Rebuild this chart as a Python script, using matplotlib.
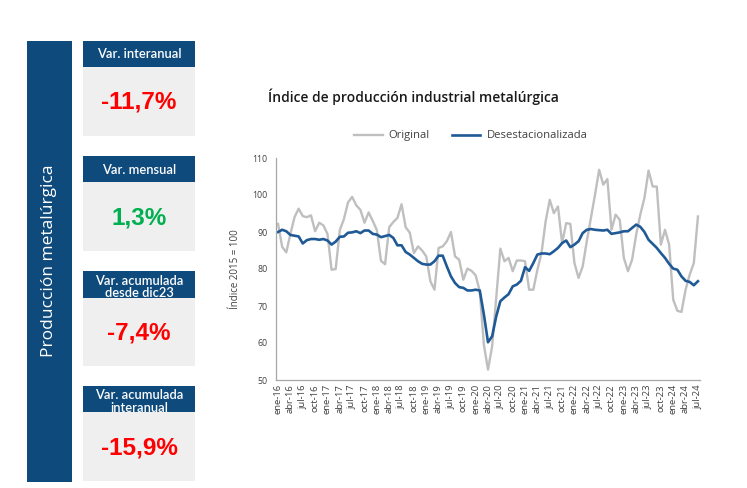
import matplotlib
matplotlib.use("Agg")
import matplotlib.pyplot as plt
from matplotlib.patches import Rectangle

# ---------------- data ----------------
original = [92.2, 86.0, 84.5, 89.5, 94.0, 96.3, 94.3, 94.0, 94.5, 90.2, 92.5, 91.8,
            89.5, 79.8, 80.0, 90.5, 93.5, 98.0, 99.5, 97.2, 96.0, 92.5, 95.3, 93.0,
            90.5, 82.2, 81.3, 91.3, 92.7, 93.8, 97.5, 91.3, 89.8, 84.3, 86.1, 85.0,
            83.4, 76.7, 74.4, 85.7, 86.1, 87.5, 90.0, 83.4, 82.5, 77.1, 80.1, 79.5,
            78.3, 74.0, 59.5, 52.8, 59.1, 72.2, 85.5, 82.1, 83.0, 79.4, 82.3, 82.3,
            82.1, 74.4, 74.4, 79.8, 84.3, 92.9, 98.7, 95.1, 96.9, 87.0, 92.4, 92.2,
            81.6, 77.6, 80.7, 87.5, 93.8, 100.1, 106.8, 102.8, 104.3, 90.6, 94.7, 93.3,
            83.0, 79.4, 82.5, 89.3, 94.7, 99.2, 106.6, 102.3, 102.3, 86.6, 90.6, 86.6,
            71.7, 68.7, 68.4, 74.4, 78.5, 81.6, 94.2]

desestacionalizada = [90.0, 90.6, 90.2, 89.2, 89.0, 88.8, 86.9, 87.8, 88.1, 88.1, 87.9, 88.1,
                      87.7, 86.6, 87.4, 88.7, 88.8, 89.8, 89.9, 90.2, 89.7, 90.4, 90.4, 89.5,
                      89.3, 88.6, 88.9, 89.2, 88.4, 86.4, 86.4, 84.6, 83.9, 83.0, 82.1, 81.4,
                      81.2, 81.2, 82.1, 83.6, 83.6, 80.7, 78.0, 76.2, 75.1, 74.9, 74.2, 74.2,
                      74.4, 74.2, 67.7, 60.2, 61.8, 67.2, 71.3, 72.3, 73.2, 75.3, 75.8, 76.8,
                      80.5, 79.5, 81.6, 83.9, 84.2, 84.2, 84.0, 84.8, 85.7, 87.0, 87.7, 85.9,
                      86.6, 87.5, 89.7, 90.6, 90.8, 90.6, 90.5, 90.4, 90.6, 89.5, 89.7, 89.9,
                      90.2, 90.2, 91.1, 92.0, 91.4, 90.0, 87.9, 86.8, 85.7, 84.3, 83.0, 81.4,
                      80.1, 79.8, 78.0, 76.8, 76.5, 75.6, 76.7]

tick_labels = ["ene-16", "abr-16", "jul-16", "oct-16", "ene-17", "abr-17", "jul-17", "oct-17",
               "ene-18", "abr-18", "jul-18", "oct-18", "ene-19", "abr-19", "jul-19", "oct-19",
               "ene-20", "abr-20", "jul-20", "oct-20", "ene-21", "abr-21", "jul-21", "oct-21",
               "ene-22", "abr-22", "jul-22", "oct-22", "ene-23", "abr-23", "jul-23", "oct-23",
               "ene-24", "abr-24", "jul-24"]
y_ticks = [50, 60, 70, 80, 90, 100, 110]

kpi_titles = ["Var. interanual", "Var. mensual", "Var. acumulada\ndesde dic23",
              "Var. acumulada\ninteranual"]
kpi_values = ["-11,7%", "1,3%", "-7,4%", "-15,9%"]
kpi_colors = ["#FF0000", "#00B050", "#FF0000", "#FF0000"]

# ---------------- figure ----------------
W, H = 747, 488
fig = plt.figure(figsize=(W / 100, H / 100), dpi=100)
fig.patch.set_facecolor("white")

NAVY = "#0E4A7C"

# overlay axes in pixel coordinates for left panel
ov = fig.add_axes([0, 0, 1, 1])
ov.set_xlim(0, W)
ov.set_ylim(H, 0)
ov.axis("off")
ov.set_zorder(0)

ov.add_patch(Rectangle((27, 41), 45, 441, facecolor=NAVY, edgecolor="none"))
ov.text(49.5, 261, "Producción metalúrgica", rotation=90, color="white",
        ha="center", va="center", fontsize=12.5, family="Open Sans", fontweight="medium")

hdr_top = [41, 156, 271, 386]
hdr_h = [26, 26, 27, 26]
box_bottom = [136, 251, 366, 481]
for t, hh, bb, title, val, col in zip(hdr_top, hdr_h, box_bottom, kpi_titles, kpi_values, kpi_colors):
    two = "\n" in title
    ov.add_patch(Rectangle((83, t), 112, hh, facecolor=NAVY, edgecolor="none", zorder=1))
    ov.text(139, t + hh / 2 + (2.5 if two else 0.5), title, color="white", ha="center",
            va="center", fontsize=9.3, family="Lato", fontweight="semibold",
            linespacing=1.08, zorder=2)
    ov.add_patch(Rectangle((83, t + hh), 112, bb - t - hh, facecolor="#EFEFEF",
                           edgecolor="none", zorder=3))
    ov.text(139, (t + hh + bb) / 2 + 1, val, color=col, ha="center", va="center",
            fontsize=17.5, family="Liberation Sans", fontweight="bold", zorder=4)

# title
ov.text(268, 97, "Índice de producción industrial metalúrgica", ha="left", va="center",
        fontsize=10, family="Open Sans", fontweight="semibold", color="#1A1A1A")

# ---------------- chart ----------------
x_left, x_right, y_top, y_bot = 276, 700, 158, 380
ax = fig.add_axes([x_left / W, 1 - y_bot / H, (x_right - x_left) / W, (y_bot - y_top) / H])
ax.set_zorder(2)
ax.patch.set_alpha(0)

x = list(range(len(original)))
ax.plot(x, original, color="#BFBFBF", lw=1.7, label="Original", solid_joinstyle="round")
ax.plot(x, desestacionalizada, color="#1F5A96", lw=1.9, label="Desestacionalizada",
        solid_joinstyle="round")

ax.set_xlim(-0.5, len(original) - 0.5)
ax.set_ylim(50, 110)
ax.set_yticks(y_ticks)
ax.set_yticklabels([str(v) for v in y_ticks], fontsize=6.3, color="#404040", family="Open Sans")
ax.set_xticks(range(0, len(original), 3))
ax.set_xticklabels(tick_labels, rotation=90, fontsize=6.8, color="#404040", family="Open Sans")
ax.tick_params(axis="both", length=0, pad=6)
ax.tick_params(axis="x", pad=3)
for s in ["top", "right"]:
    ax.spines[s].set_visible(False)
for s in ["left", "bottom"]:
    ax.spines[s].set_color("#A6A6A6")
    ax.spines[s].set_linewidth(0.9)
ax.set_ylabel("Índice 2015 = 100", fontsize=7, color="#404040", family="Open Sans", labelpad=8)

leg = ax.legend(loc="center", bbox_to_anchor=((471 - x_left) / (x_right - x_left),
                                               1 + (y_top - 136) / (y_bot - y_top)),
                ncol=2, frameon=False, handlelength=2.5, handletextpad=0.55,
                columnspacing=2.0, prop={"family": "Open Sans", "size": 8.1})
for t in leg.get_texts():
    t.set_color("#404040")

fig.savefig("out.png", dpi=100)
